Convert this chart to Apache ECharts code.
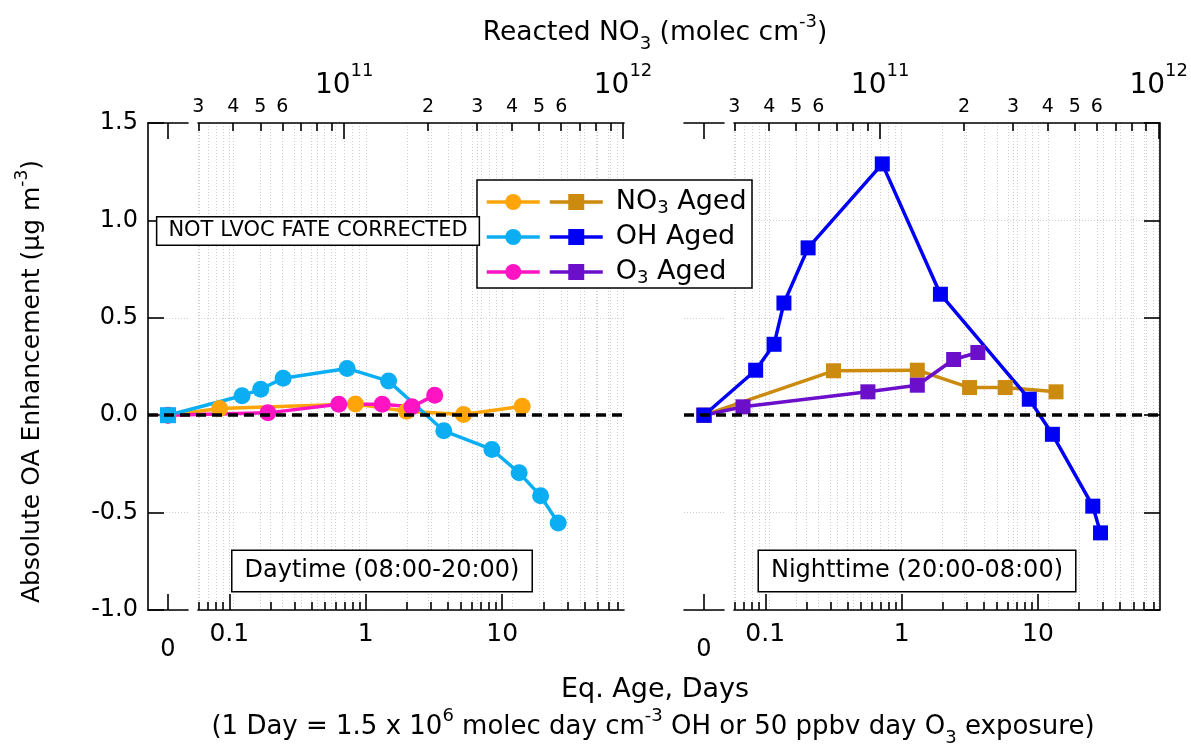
<!DOCTYPE html>
<html>
<head>
<meta charset="utf-8">
<script src="https://cdn.jsdelivr.net/npm/echarts@6.0.0/dist/echarts.min.js"></script>
<style>html,body{margin:0;padding:0;background:#fff}#chart{width:1191px;height:751px}</style>
</head>
<body>
<div id="chart"></div>
<script>
const F = 'DejaVu Sans';

// data (x = eq. age in days, y = OA enhancement ug m-3)
const no3DayX = [0, 0.085, 0.84, 1.99, 5.2, 14.0];
const no3DayY = [0, 0.034, 0.058, 0.02, 0.004, 0.046];
const ohDayX = [0, 0.124, 0.17, 0.248, 0.73, 1.47, 3.73, 8.4, 13.3, 19.1, 25.7];
const ohDayY = [0, 0.10, 0.133, 0.19, 0.24, 0.175, -0.08, -0.176, -0.296, -0.414, -0.553];
const o3DayX = [0, 0.192, 0.634, 1.32, 2.18, 3.2];
const o3DayY = [0, 0.012, 0.056, 0.056, 0.043, 0.103];

const no3NightX = [0, 0.316, 1.30, 3.14, 5.73, 13.5];
const no3NightY = [0, 0.228, 0.231, 0.142, 0.142, 0.12];
const ohNightX = [0, 0.085, 0.116, 0.137, 0.206, 0.72, 1.92, 8.6, 12.7, 25.1, 28.6];
const ohNightY = [0, 0.231, 0.364, 0.576, 0.859, 1.29, 0.621, 0.082, -0.098, -0.467, -0.604];
const o3NightX = [0, 0.0687, 0.565, 1.30, 2.40, 3.61];
const o3NightY = [0, 0.043, 0.12, 0.154, 0.286, 0.322];

// tick values
const dayMajor = [0.1, 1, 10];
const dayMinor = [0.06, 0.07, 0.08, 0.09, 0.2, 0.3, 0.4, 0.5, 0.6, 0.7, 0.8, 0.9,
  2, 3, 4, 5, 6, 7, 8, 9, 20, 30, 40, 50, 60, 70];
const no3Major = [1e11, 1e12];
const no3Minor = [3e10, 4e10, 5e10, 6e10, 7e10, 8e10, 9e10, 2e11, 3e11, 4e11, 5e11, 6e11, 7e11, 8e11, 9e11];
const no3MinorLabeled = [3e10, 4e10, 5e10, 6e10, 2e11, 3e11, 4e11, 5e11, 6e11];

// layout
const TOP = 123, H = 487, ZERO_W = 40, GAP = 10, LOG_W = 426;
const PANEL_LEFT = [148, 684];
const DAY_MIN = 0.059, DAY_MAX = 78;
const NO3_MIN = 2.99e10, NO3_MAX = 1.008e12;

// the "0" point sits on its own short axis left of the log axis
const decadePx = LOG_W / Math.log10(DAY_MAX / DAY_MIN);
const dataMin = DAY_MIN / Math.pow(10, (ZERO_W + GAP) / decadePx);
const zeroAt = dataMin * Math.pow(10, (ZERO_W / 2) / decadePx);

const black = {color: '#000', width: 1.6};
const gridDot = {show: true, lineStyle: {color: '#cfcfcf', width: 1, type: [1, 2]}};
const lbl = (size) => ({fontSize: size, fontFamily: F, color: '#000'});

const grid = [], xAxis = [], yAxis = [];
PANEL_LEFT.forEach((l, p) => {
  const g = p * 3;
  grid.push({left: l, top: TOP, width: ZERO_W + GAP + LOG_W, height: H});
  grid.push({left: l, top: TOP, width: ZERO_W, height: H});
  grid.push({left: l + ZERO_W + GAP, top: TOP, width: LOG_W, height: H});

  xAxis.push({type: 'log', gridIndex: g, min: dataMin, max: DAY_MAX, show: false});
  xAxis.push({type: 'value', gridIndex: g + 1, position: 'bottom', min: -1, max: 1,
    axisLine: {onZero: false, lineStyle: black},
    axisTick: {inside: true, length: 16, customValues: [0], lineStyle: black},
    axisLabel: Object.assign({customValues: [0], formatter: () => '0', margin: 28}, lbl(24)),
    splitLine: {show: false}});
  xAxis.push({type: 'value', gridIndex: g + 1, position: 'top', min: -1, max: 1,
    axisLine: {onZero: false, lineStyle: black},
    axisTick: {inside: true, length: 16, customValues: [0], lineStyle: black},
    axisLabel: {show: false}, splitLine: {show: false}});
  xAxis.push({type: 'log', gridIndex: g + 2, position: 'bottom', min: DAY_MIN, max: DAY_MAX,
    axisLine: {onZero: false, lineStyle: black},
    axisTick: {inside: true, length: 16, customValues: dayMajor, lineStyle: black},
    axisLabel: Object.assign({customValues: dayMajor, margin: 12,
      formatter: v => v < 1 ? v.toFixed(1) : String(Math.round(v))}, lbl(25)),
    splitLine: gridDot});
  xAxis.push({type: 'log', gridIndex: g + 2, position: 'bottom', min: DAY_MIN, max: DAY_MAX,
    axisLine: {show: false, onZero: false},
    axisTick: {inside: true, length: 8, customValues: dayMinor, lineStyle: black},
    axisLabel: {show: false}, splitLine: gridDot});
  xAxis.push({type: 'log', gridIndex: g + 2, position: 'top', min: NO3_MIN, max: NO3_MAX,
    axisLine: {onZero: false, lineStyle: black},
    axisTick: {inside: true, length: 16, customValues: no3Major, lineStyle: black},
    axisLabel: {customValues: no3Major, margin: 13,
      formatter: v => '{b|10}{s|' + Math.round(Math.log10(v)) + '}',
      rich: {
        b: {fontSize: 28, fontFamily: F, color: '#000', lineHeight: 48},
        s: {fontSize: 18, fontFamily: F, color: '#000', lineHeight: 18, verticalAlign: 'top'}
      }},
    splitLine: gridDot});
  xAxis.push({type: 'log', gridIndex: g + 2, position: 'top', min: NO3_MIN, max: NO3_MAX,
    axisLine: {show: false, onZero: false},
    axisTick: {inside: true, length: 8, customValues: no3Minor, lineStyle: black},
    axisLabel: Object.assign({customValues: no3MinorLabeled, margin: 6,
      formatter: v => String(Math.round(v / Math.pow(10, Math.floor(Math.log10(v) + 1e-9))))}, lbl(19)),
    splitLine: gridDot});

  yAxis.push({type: 'value', gridIndex: g, min: -1, max: 1.5, interval: 0.5,
    position: p ? 'right' : 'left',
    axisLine: {onZero: false, lineStyle: black},
    axisTick: {inside: true, length: 16, lineStyle: black},
    axisLabel: p ? {show: false} : Object.assign({margin: 10, formatter: v => v.toFixed(1)}, lbl(24)),
    splitLine: {show: false},
    name: p ? '' : '{t|Absolute OA Enhancement (µg m}{s|-3}{t|)}',
    nameLocation: 'middle', nameRotate: 90, nameGap: 98,
    nameTextStyle: {padding: [0, 30, 0, 0], rich: {
      t: {fontSize: 25, fontFamily: F, color: '#000', lineHeight: 36},
      s: {fontSize: 17, fontFamily: F, color: '#000', lineHeight: 17, verticalAlign: 'top'}
    }}});
  [g + 1, g + 2].forEach(gi => yAxis.push({type: 'value', gridIndex: gi, min: -1, max: 1.5, interval: 0.5,
    axisLine: {show: false, onZero: false}, axisTick: {show: false}, axisLabel: {show: false},
    splitLine: gridDot}));
});

const pts = (xs, ys, firstSymbol) => xs.map((x, i) => {
  const v = [x === 0 ? zeroAt : x, ys[i]];
  return (i === 0 && firstSymbol) ? {value: v, symbol: firstSymbol, symbolSize: 16} : v;
});

const zeroLine = {
  silent: true, symbol: 'none', label: {show: false},
  lineStyle: {color: '#000', width: 3.5, type: [10, 6]},
  data: [{yAxis: 0}]
};

function line(name, p, xs, ys, color, symbol, size, extra) {
  return Object.assign({
    name, type: 'line', xAxisIndex: p * 7, yAxisIndex: p * 3,
    data: pts(xs, ys, extra && extra.first),
    symbol, symbolSize: size, showSymbol: true,
    itemStyle: {color}, lineStyle: {color, width: 3.5},
    markLine: extra && extra.zero ? zeroLine : undefined,
    emphasis: {disabled: true}
  });
}

const series = [
  line('NO3 day', 0, no3DayX, no3DayY, '#FFA50A', 'circle', 17, {zero: true}),
  line('O3 day', 0, o3DayX, o3DayY, '#FF14C4', 'circle', 17),
  line('OH day', 0, ohDayX, ohDayY, '#0BAEF2', 'circle', 17, {first: 'rect'}),
  line('NO3 night', 1, no3NightX, no3NightY, '#CC8A0E', 'rect', 15, {zero: true}),
  line('O3 night', 1, o3NightX, o3NightY, '#6B0FCB', 'rect', 15),
  line('OH night', 1, ohNightX, ohNightY, '#0000F5', 'rect', 15)
];

const legendText = {
  'NO3 night': '{t|NO}{sub|3}{t| Aged}',
  'OH night': '{t|OH Aged}',
  'O3 night': '{t|O}{sub|3}{t| Aged}'
};

const textRich = (size) => ({
  t: {fontSize: size, fontFamily: F, fill: '#000', color: '#000', lineHeight: 40},
  sub: {fontSize: Math.round(size * 0.68), fontFamily: F, fill: '#000', color: '#000', lineHeight: 22, verticalAlign: 'bottom'},
  sup: {fontSize: Math.round(size * 0.68), fontFamily: F, fill: '#000', color: '#000', lineHeight: 16, verticalAlign: 'top'}
});

const boxText = (x, y, text, size, pad, z) => ({
  type: 'text', x, y, z,
  style: {text, fontSize: size, fontFamily: F, fill: '#000', align: 'center', verticalAlign: 'middle',
    backgroundColor: '#fff', borderColor: '#000', borderWidth: 1.5, padding: pad}
});

const chart = echarts.init(document.getElementById('chart'));
chart.setOption({
  animation: false,
  backgroundColor: '#fff',
  grid, xAxis, yAxis, series,
  legend: [
    {data: ['NO3 day', 'OH day', 'O3 day'], orient: 'vertical', left: 480, top: 182,
      itemWidth: 53, itemHeight: 20, itemGap: 5, selectedMode: false, z: 5,
      lineStyle: {width: 3.5},
      formatter: () => ' ', textStyle: {fontSize: 27, fontFamily: F, lineHeight: 30}},
    {data: ['NO3 night', 'OH night', 'O3 night'], orient: 'vertical', left: 543, top: 182,
      itemWidth: 53, itemHeight: 20, itemGap: 5, selectedMode: false, z: 5,
      lineStyle: {width: 3.5},
      formatter: name => legendText[name],
      textStyle: {fontSize: 27, fontFamily: F, color: '#000', lineHeight: 30, padding: [0, 0, 0, 8],
        rich: {
          t: {fontSize: 27, fontFamily: F, color: '#000', lineHeight: 30},
          sub: {fontSize: 18, fontFamily: F, color: '#000', lineHeight: 15, verticalAlign: 'bottom'}
        }}}
  ],
  graphic: [
    {type: 'rect', z: 3, shape: {x: 477, y: 180, width: 275, height: 108},
      style: {fill: '#fff', stroke: '#000', lineWidth: 1.5}},
    boxText(318, 231, 'NOT LVOC FATE CORRECTED', 21, [3, 11], 6),
    boxText(382, 571, 'Daytime (08:00-20:00)', 24, [8, 12], 3),
    boxText(917, 571, 'Nighttime (20:00-08:00)', 24, [8, 12], 3),
    {type: 'text', x: 655, y: 33, z: 3, style: {
      text: '{t|Reacted NO}{sub|3}{t| (molec cm}{sup|-3}{t|)}', rich: textRich(26.5),
      align: 'center', verticalAlign: 'middle'}},
    {type: 'text', x: 655, y: 690, z: 3, style: {
      text: 'Eq. Age, Days', fontSize: 27, fontFamily: F, fill: '#000',
      align: 'center', verticalAlign: 'middle'}},
    {type: 'text', x: 653, y: 727, z: 3, style: {
      text: '{t|(1 Day = 1.5 x 10}{sup|6}{t| molec day cm}{sup|-3}{t| OH or 50 ppbv day O}{sub|3}{t| exposure)}',
      rich: textRich(26), align: 'center', verticalAlign: 'middle'}}
  ]
});
</script>
</body>
</html>
